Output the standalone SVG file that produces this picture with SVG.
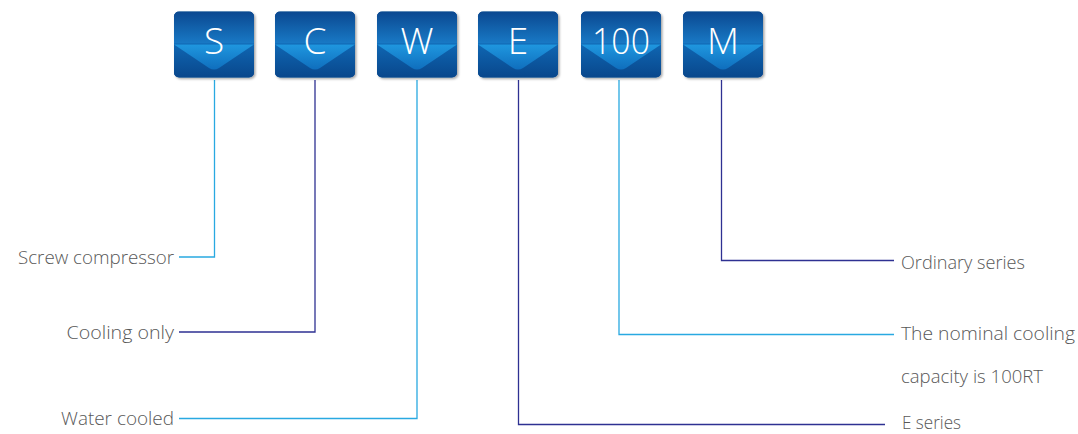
<svg xmlns="http://www.w3.org/2000/svg" xmlns:xlink="http://www.w3.org/1999/xlink" width="1078" height="434" viewBox="0 0 1078 434">
  <style>
    .lbl { font-family: "Open Sans", "Liberation Sans", sans-serif; font-weight: 300; font-size: 19px; fill: #585858; }
    .code { font-family: "Open Sans", "Liberation Sans", sans-serif; font-weight: 300; font-size: 37px; fill: #ffffff; text-anchor: middle; }
    .lt { fill: none; stroke: #29a9e1; stroke-width: 1.3; }
    .dk { fill: none; stroke: #2e3192; stroke-width: 1.3; }
  </style>
  <defs>
    <linearGradient id="bgGrad" x1="0" y1="0" x2="0" y2="1">
      <stop offset="0" stop-color="#0b4890"/>
      <stop offset="0.47" stop-color="#1878c4"/>
      <stop offset="0.5" stop-color="#0f66b2"/>
      <stop offset="1" stop-color="#09478c"/>
    </linearGradient>
    <linearGradient id="vGrad" x1="0" y1="0" x2="0" y2="1">
      <stop offset="0" stop-color="#1f97df"/>
      <stop offset="1" stop-color="#0f6ebd"/>
    </linearGradient>
    <filter id="shadow" x="-10%" y="-10%" width="130%" height="130%">
      <feDropShadow dx="1.5" dy="1.5" stdDeviation="1.2" flood-color="#000" flood-opacity="0.35"/>
    </filter>
    <clipPath id="boxClip">
      <rect x="0" y="0" width="80" height="66" rx="5" ry="5"/>
    </clipPath>
    <g id="box">
      <rect x="0" y="0" width="80" height="66" rx="5" ry="5" fill="#0b4a8f" filter="url(#shadow)"/>
      <g clip-path="url(#boxClip)">
        <rect x="0" y="0" width="80" height="66" fill="url(#bgGrad)"/>
        <path d="M0,33 L35,56.5 Q40,59.5 45,56.5 L80,33 Z" fill="url(#vGrad)"/>
      </g>
    </g>
  </defs>

  <g id="connectors">
    <path class="lt" d="M214.5,80 V257 H179"/>
    <path class="dk" d="M315,80 V332 H179"/>
    <path class="lt" d="M417,80 V418.5 H179"/>
    <path class="dk" d="M518.5,80 V424.5 H885"/>
    <path class="lt" d="M619,80 V334.5 H894"/>
    <path class="dk" d="M721.5,80 V260.5 H894"/>
  </g>

  <g id="node-S">
    <use xlink:href="#box" href="#box" x="174" y="11.5"/>
    <text class="code" x="214" y="53.5">S</text>
  </g>
  <g id="node-C">
    <use xlink:href="#box" href="#box" x="275" y="11.5"/>
    <text class="code" x="315" y="53.5">C</text>
  </g>
  <g id="node-W">
    <use xlink:href="#box" href="#box" x="377" y="11.5"/>
    <text class="code" x="417" y="53.5">W</text>
  </g>
  <g id="node-E">
    <use xlink:href="#box" href="#box" x="478" y="11.5"/>
    <text class="code" x="518" y="53.5">E</text>
  </g>
  <g id="node-100">
    <use xlink:href="#box" href="#box" x="581" y="11.5"/>
    <text class="code" x="621" y="53.5" textLength="58" lengthAdjust="spacingAndGlyphs">100</text>
  </g>
  <g id="node-M">
    <use xlink:href="#box" href="#box" x="683" y="11.5"/>
    <text class="code" x="723" y="53.5">M</text>
  </g>

  <g id="label-screw">
    <text class="lbl" x="174" y="263.5" text-anchor="end" textLength="156" lengthAdjust="spacingAndGlyphs">Screw compressor</text>
  </g>
  <g id="label-cooling">
    <text class="lbl" x="174" y="338.5" text-anchor="end" textLength="107.5" lengthAdjust="spacingAndGlyphs">Cooling only</text>
  </g>
  <g id="label-water">
    <text class="lbl" x="174" y="425" text-anchor="end" textLength="113" lengthAdjust="spacingAndGlyphs">Water cooled</text>
  </g>
  <g id="label-ordinary">
    <text class="lbl" x="901" y="269" textLength="124" lengthAdjust="spacingAndGlyphs">Ordinary series</text>
  </g>
  <g id="label-nominal">
    <text class="lbl" x="901" y="339.5" textLength="174" lengthAdjust="spacingAndGlyphs">The nominal cooling</text>
    <text class="lbl" x="901" y="383" textLength="142" lengthAdjust="spacingAndGlyphs">capacity is 100RT</text>
  </g>
  <g id="label-eseries">
    <text class="lbl" x="902" y="429" textLength="59" lengthAdjust="spacingAndGlyphs">E series</text>
  </g>
</svg>
